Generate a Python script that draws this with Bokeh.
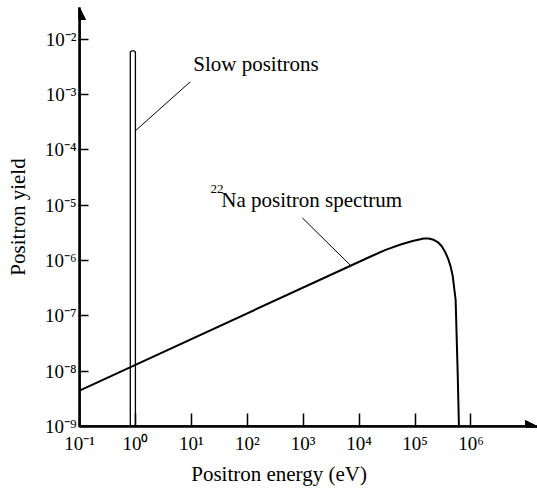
from bokeh.plotting import figure
from bokeh.models import Range1d, FixedTicker, CustomJSTickFormatter, Arrow, NormalHead, Title
from bokeh.embed import file_html
from bokeh.resources import INLINE
from bokeh.core.properties import value

# ---- data ----
# 22Na positron spectrum (energy in eV, yield)
spec_energy = [0.1, 1.61e4, 2.98e4, 5.52e4, 9.05e4, 1.43e5, 1.75e5, 2.15e5, 2.54e5, 2.99e5,
               3.53e5, 3.94e5, 4.34e5, 4.71e5, 4.97e5, 5.32e5, 5.78e5, 6.10e5]
spec_yield = [4.46e-9, 1.18e-6, 1.55e-6, 1.94e-6, 2.24e-6, 2.49e-6, 2.49e-6, 2.36e-6, 2.15e-6, 1.82e-6,
              1.36e-6, 1.05e-6, 7.7e-7, 5.3e-7, 3.4e-7, 1.94e-7, 1.0e-8, 1.0e-9]

# slow positron peak (narrow bar)
slow_left = [0.81]
slow_right = [1.0]
slow_top = [6.1e-3]

# ticks
x_ticks = [1e-1, 1e0, 1e1, 1e2, 1e3, 1e4, 1e5, 1e6]
y_ticks = [1e-9, 1e-8, 1e-7, 1e-6, 1e-5, 1e-4, 1e-3, 1e-2]

# annotation texts and anchors
slow_text = "Slow positrons"
slow_text_pos = (10.8, 3.5e-3)
slow_leader = ([1.0, 9.5], [2.2e-4, 1.68e-3])
na_sup_text = "22"
na_sup_pos = (22.0, 1.92e-5)
na_text = "Na positron spectrum"
na_text_pos = (34.3, 1.23e-5)
na_leader = ([968, 7050], [5.87e-6, 8.1e-7])

x_label = "Positron energy (eV)"
y_label = "Positron yield"

x_start, x_end = 1e-1, 10 ** 7.19
y_start, y_end = 1e-9, 10 ** -1.43

FONT = "Liberation Serif"

p = figure(width=537, height=488, x_axis_type="log", y_axis_type="log",
           x_range=Range1d(x_start, x_end), y_range=Range1d(y_start, y_end),
           output_backend="svg", toolbar_location=None,
           min_border_left=79, min_border_right=0, min_border_top=7, min_border_bottom=61)
p.outline_line_color = None
p.xgrid.visible = False
p.ygrid.visible = False
p.background_fill_color = "white"
p.border_fill_color = "white"

fmt = CustomJSTickFormatter(code="""
const sup = {"-": "\u207b", "0": "\u2070", "1": "\u00b9", "2": "\u00b2", "3": "\u00b3",
             "4": "\u2074", "5": "\u2075", "6": "\u2076", "7": "\u2077", "8": "\u2078", "9": "\u2079"};
const e = Math.round(Math.log10(tick));
return "10" + String(e).split("").map(c => sup[c]).join("");
""")

for ax in (p.xaxis[0], p.yaxis[0]):
    ax.formatter = fmt
    ax.axis_line_width = 2.5
    ax.axis_line_color = "black"
    ax.major_tick_line_color = "black"
    ax.major_tick_line_width = 1.5
    ax.minor_tick_line_color = None
    ax.major_label_text_font = FONT
    ax.major_label_text_font_size = "19px"
    ax.major_label_text_color = "black"
    ax.axis_label_text_font = FONT
    ax.axis_label_text_font_size = "21px"
    ax.axis_label_text_font_style = "normal"
    ax.axis_label_text_color = "black"

p.xaxis.ticker = FixedTicker(ticks=x_ticks)
p.yaxis.ticker = FixedTicker(ticks=y_ticks)
p.xaxis.major_tick_in = 13
p.xaxis.major_tick_out = 0
p.yaxis.major_tick_in = 9
p.yaxis.major_tick_out = 1
p.xaxis.major_label_standoff = 6
p.yaxis.major_label_standoff = 2
p.yaxis.axis_label = y_label
p.yaxis.axis_label_standoff = 12

# x axis title, placed under the axis
p.add_layout(Title(text=x_label, align="left", offset=111.7, standoff=6,
                   text_font=FONT, text_font_size="21px", text_font_style="normal",
                   text_color="black"), "below")

# slow positron bar
p.quad(left=slow_left, right=slow_right, bottom=[y_start], top=slow_top,
       fill_color="white", line_color="black", line_width=1.3, border_radius=2)

# spectrum
p.line(spec_energy, spec_yield, line_color="black", line_width=2, line_join="round")

# leader lines
p.line(slow_leader[0], slow_leader[1], line_color="black", line_width=1)
p.line(na_leader[0], na_leader[1], line_color="black", line_width=1)

# texts
p.text(x=[slow_text_pos[0]], y=[slow_text_pos[1]], text=[slow_text],
       text_font=value(FONT), text_font_size="21px", text_color="black",
       text_align="left", text_baseline="alphabetic")
p.text(x=[na_sup_pos[0]], y=[na_sup_pos[1]], text=[na_sup_text],
       text_font=value(FONT), text_font_size="13px", text_color="black",
       text_align="left", text_baseline="alphabetic")
p.text(x=[na_text_pos[0]], y=[na_text_pos[1]], text=[na_text],
       text_font=value(FONT), text_font_size="21px", text_color="black",
       text_align="left", text_baseline="alphabetic")

# axis arrow heads
p.add_layout(Arrow(end=NormalHead(size=12, fill_color="black", line_color="black"),
                   x_start=x_start, y_start=y_start, x_end=x_end, y_end=y_start,
                   line_width=2.5, line_color="black"))
p.add_layout(Arrow(end=NormalHead(size=12, fill_color="black", line_color="black"),
                   x_start=x_start, y_start=y_start, x_end=x_start, y_end=y_end,
                   line_width=2.5, line_color="black"))

open("out.html", "w").write(file_html(p, INLINE))
